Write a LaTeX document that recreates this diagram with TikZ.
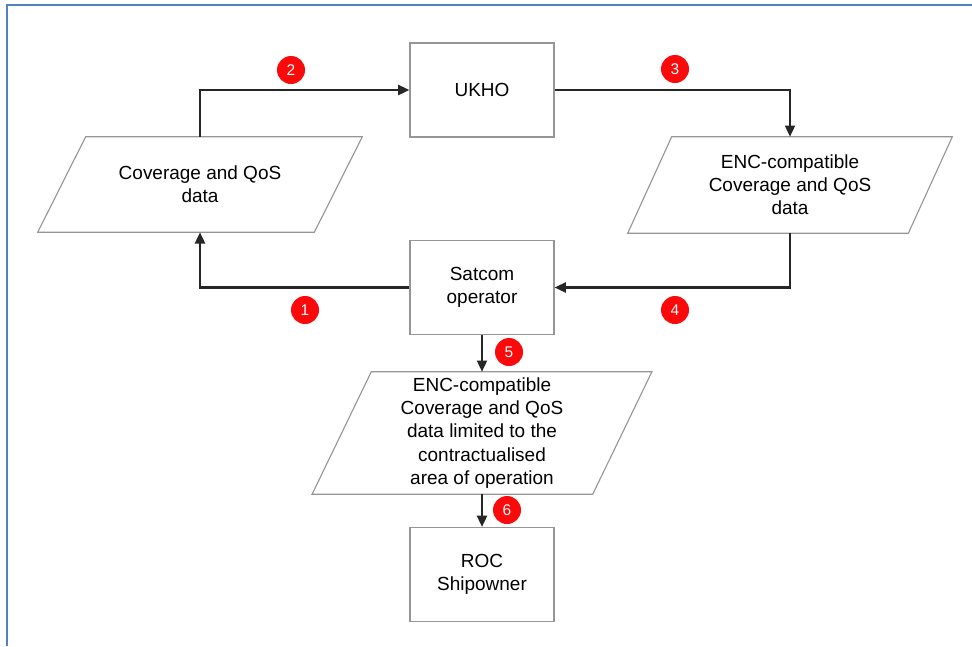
\documentclass[tikz,border=0pt]{standalone}
\usepackage{fontspec}
\setmainfont{Liberation Sans}
\usepackage{xcolor}
\usepackage{tikz}
\usetikzlibrary{shapes,arrows,arrows.meta,positioning,fit,calc}
\definecolor{framecolor}{RGB}{84,130,190}
\definecolor{edgegray}{RGB}{150,150,150}
\definecolor{badgered}{RGB}{250,10,10}

% parallelogram round a text node: #1 node name, #2 horizontal slant
\newcommand{\slantframe}[2]{%
  \draw[edgegray, line width=0.8pt]
    ($(#1.north west)+(#2,0)$) -- ($(#1.north east)+(#2,0)$) --
    ($(#1.south east)+(-#2,0)$) -- ($(#1.south west)+(-#2,0)$) -- cycle;}

\begin{document}
\begin{tikzpicture}[x=0.025cm, y=-0.025cm,
    every node/.style={font=\fontsize{13.5}{16.5}\selectfont, align=center},
    procbox/.style={draw=edgegray, line width=0.8pt, minimum width=3.6cm, minimum height=2.35cm, inner sep=2pt},
    databox/.style={minimum width=#1, inner sep=2pt},
    flow/.style={-{Triangle[length=2.8mm, width=2.5mm]}, line width=1.5pt, black!85},
    badge/.style={circle, fill=badgered, text=white, minimum size=0.7cm, inner sep=0pt, font=\fontsize{11}{12}\selectfont}]
    \useasboundingbox (0,0) rectangle (972,646);
    \draw[framecolor, line width=1.5pt] (7,646) -- (7,5) -- (972,5);

    % process boxes
    \node[procbox] (ukho) at (482,90) {UKHO};
    \node[procbox] (sat) at (482,287.5) {Satcom\\operator};
    \node[procbox] (roc) at (482,574.5) {ROC\\Shipowner};

    % data (parallelograms)
    \node[databox=6.9cm, minimum height=2.375cm] (cov) at (200,184.5) {Coverage and QoS\\data};
    \node[databox=7cm, minimum height=2.4cm] (enc) at (790,185) {ENC-compatible\\Coverage and QoS\\data};
    \node[databox=7cm, minimum height=3.05cm] (lim) at (482,433) {ENC-compatible\\Coverage and QoS\\data limited to the\\contractualised\\area of operation};
    \slantframe{cov}{0.6cm}
    \slantframe{enc}{0.55cm}
    \slantframe{lim}{0.74cm}

    % flows
    \draw[flow] (cov.north) |- (ukho.west);
    \draw[flow] (ukho.east) -| (enc.north);
    \draw[flow] (sat.west) -| (cov.south);
    \draw[flow] (enc.south) |- (sat.east);
    \draw[flow] (sat.south) -- (lim.north);
    \draw[flow] (lim.south) -- (roc.north);

    % step numbers
    \node[badge] (b1) at (305,310) {1};
    \node[badge] (b2) at (291,70) {2};
    \node[badge] (b3) at (675,69) {3};
    \node[badge] (b4) at (675,310) {4};
    \node[badge] (b5) at (509,352) {5};
    \node[badge] (b6) at (507,510) {6};
\end{tikzpicture}
\end{document}
